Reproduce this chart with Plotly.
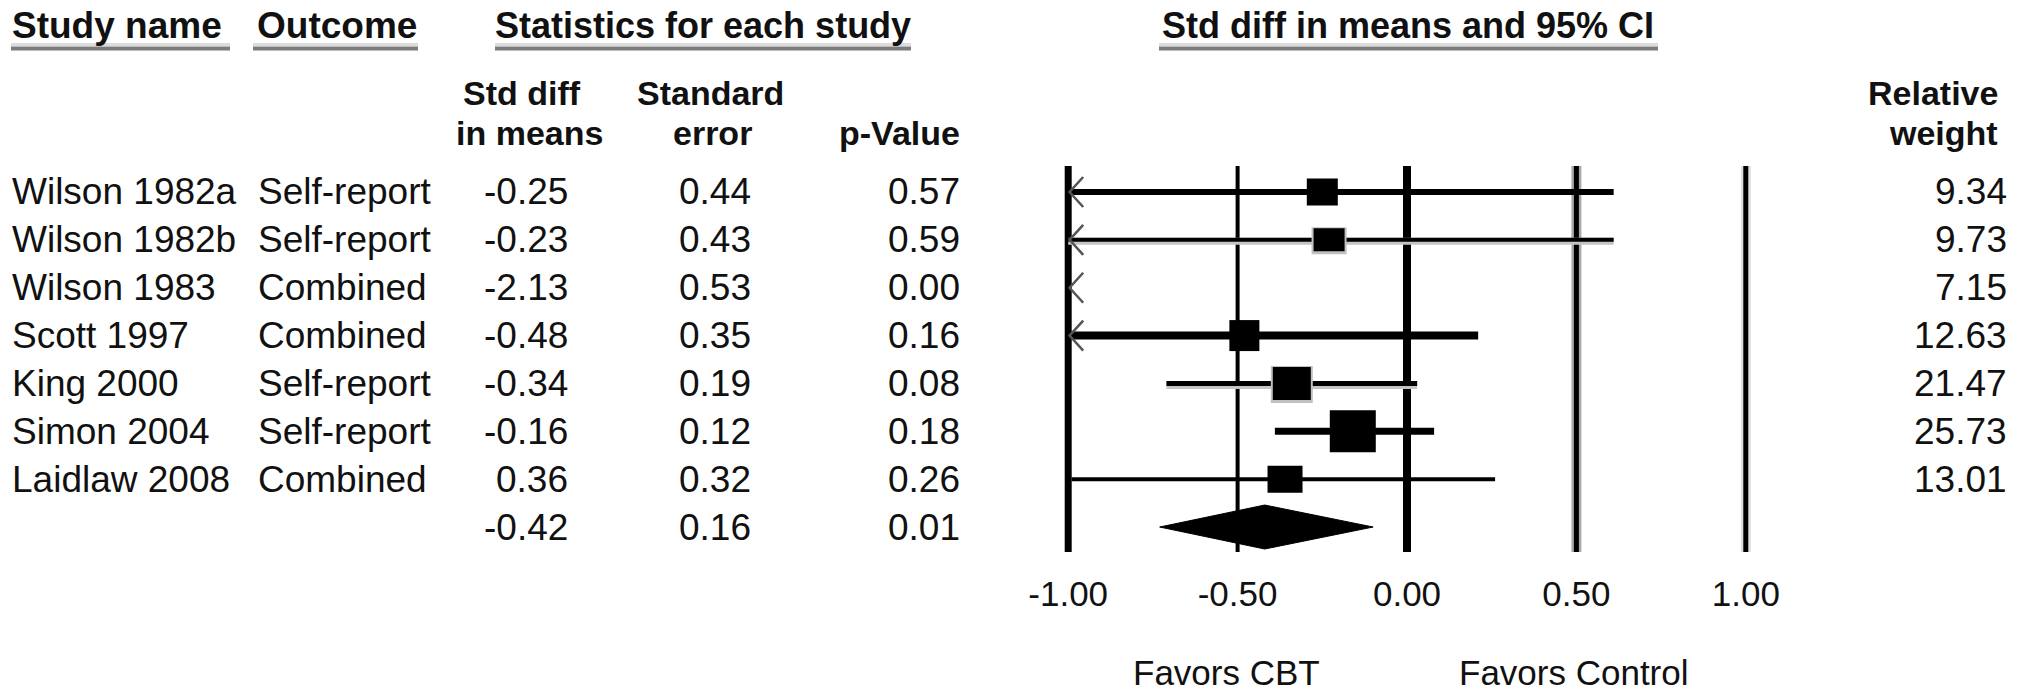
import plotly.graph_objects as go

W, H = 2026, 693

# ---------------- data ----------------
study_names = ["Wilson 1982a", "Wilson 1982b", "Wilson 1983", "Scott 1997",
               "King 2000", "Simon 2004", "Laidlaw 2008"]
outcomes = ["Self-report", "Self-report", "Combined", "Combined",
            "Self-report", "Self-report", "Combined"]
# values as printed in the table
table_std_diff = [-0.25, -0.23, -2.13, -0.48, -0.34, -0.16, 0.36]
table_se = [0.44, 0.43, 0.53, 0.35, 0.19, 0.12, 0.32]
table_p = [0.57, 0.59, 0.00, 0.16, 0.08, 0.18, 0.26]
rel_weight = [9.34, 9.73, 7.15, 12.63, 21.47, 25.73, 13.01]
summary_std_diff = -0.42
summary_se = 0.16
summary_p = 0.01

# values as drawn in the forest plot
point_effect = [-0.25, -0.23, -2.13, -0.48, -0.34, -0.16, -0.36]
ci_lower = [-1.11, -1.07, -3.17, -1.17, -0.71, -0.39, -0.99]
ci_upper = [0.61, 0.61, -1.09, 0.21, 0.03, 0.08, 0.26]
summary_effect = -0.42
summary_lower = -0.73
summary_upper = -0.10

axis_ticks = [-1.0, -0.5, 0.0, 0.5, 1.0]
axis_labels = ["-1.00", "-0.50", "0.00", "0.50", "1.00"]
axis_min, axis_max = -1.0, 1.0

# ---------------- styling / layout constants ----------------
FONT = "Liberation Sans, Arial, Helvetica, sans-serif"
X0_PX, X_SCALE = 1407.0, 338.8          # pixel of 0.00 and pixels per unit
ROW0_PX, ROW_STEP = 192.0, 47.86         # pixel of first row, row spacing
PLOT_TOP, PLOT_BOT = 166.0, 552.0
XR = 1.2

line_w = [6, 4, 0, 8, 5, 7, 4]
box_w = [31, 31, 0, 30, 38, 46, 35]
box_h = [27, 23, 0, 31, 33, 42, 27]
halo = [False, True, False, False, True, False, False]
vline_w = [7, 4, 8, 5, 5]
vline_halo = [None, None, None, "#a8a8a8", "#e0e0e0"]

n = len(study_names)
sum_row = n

fig = go.Figure()

shapes = []
# vertical reference lines at the tick values
for t, w, hc in zip(axis_ticks, vline_w, vline_halo):
    if hc:
        shapes.append(dict(type="line", xref="x", yref="y domain", x0=t, x1=t, y0=0, y1=1,
                           line=dict(color=hc, width=w + 5), layer="below"))
    shapes.append(dict(type="line", xref="x", yref="y domain", x0=t, x1=t, y0=0, y1=1,
                       line=dict(color="black", width=w), layer="below"))

dx_arrow = 15.0 / X_SCALE
dy_arrow = 15.0 / ROW_STEP

for i in range(n):
    lo, hi, est = ci_lower[i], ci_upper[i], point_effect[i]
    clo, chi = max(lo, axis_min), min(hi, axis_max)
    if chi > clo and line_w[i] > 0:
        if halo[i]:
            shapes.append(dict(type="line", xref="x", yref="y", ysizemode="pixel", yanchor=i,
                               x0=clo, x1=chi, y0=-1.5, y1=-1.5,
                               line=dict(color="#c4c4c4", width=line_w[i] + 3), layer="below"))
        fig.add_trace(go.Scatter(x=[clo, chi], y=[i, i], mode="lines",
                                 line=dict(color="black", width=line_w[i]),
                                 hoverinfo="skip", showlegend=False))
    if lo < axis_min:
        fig.add_trace(go.Scatter(
            x=[axis_min + dx_arrow, axis_min + 0.004, axis_min + dx_arrow],
            y=[i - dy_arrow, i, i + dy_arrow], mode="lines",
            line=dict(color="#555555", width=2.5), hoverinfo="skip", showlegend=False))
    if axis_min <= est <= axis_max and box_w[i] > 0:
        if halo[i]:
            shapes.append(dict(type="rect", xref="x", yref="y", xsizemode="pixel", ysizemode="pixel",
                               xanchor=est, yanchor=i,
                               x0=-box_w[i] / 2 - 2, x1=box_w[i] / 2 + 2,
                               y0=-box_h[i] / 2 - 3, y1=box_h[i] / 2 + 1,
                               fillcolor="#c0c0c0", line=dict(width=0)))
        shapes.append(dict(type="rect", xref="x", yref="y", xsizemode="pixel", ysizemode="pixel",
                           xanchor=est, yanchor=i,
                           x0=-box_w[i] / 2, x1=box_w[i] / 2,
                           y0=-box_h[i] / 2, y1=box_h[i] / 2,
                           fillcolor="black", line=dict(width=0)))

# summary diamond
dh = 22.0 / ROW_STEP
fig.add_trace(go.Scatter(
    x=[summary_lower, summary_effect, summary_upper, summary_effect, summary_lower],
    y=[sum_row, sum_row - dh, sum_row, sum_row + dh, sum_row],
    mode="lines", fill="toself", fillcolor="black",
    line=dict(color="black", width=1), hoverinfo="skip", showlegend=False))


def px(xp):
    return xp / W


def py(yp):
    return 1 - yp / H


# header underlines
for a, b in [(11, 230), (253, 418), (495, 911), (1159, 1658)]:
    shapes.append(dict(type="line", xref="paper", yref="paper", x0=px(a), x1=px(b),
                       y0=py(44.5), y1=py(44.5), line=dict(color="#dcdcdc", width=3)))
    shapes.append(dict(type="line", xref="paper", yref="paper", x0=px(a), x1=px(b),
                       y0=py(48.5), y1=py(48.5), line=dict(color="#7c7c7c", width=4)))

annotations = []


def ann(text, x, yc, anchor="left", size=37, bold=False, color="#111111"):
    t = f"<b>{text}</b>" if bold else text
    annotations.append(dict(text=t, x=px(x), y=py(yc),
                            xref="paper", yref="paper", xanchor=anchor, yanchor="middle",
                            showarrow=False, borderpad=0, borderwidth=0,
                            font=dict(family=FONT, size=size, color=color)))


SUB1, SUB2 = 93, 133
# headers
ann("Study name", 12, 26, "left", 37, True)
ann("Outcome", 257, 26, "left", 37, True)
ann("Statistics for each study", 703, 26, "center", 36, True)
ann("Std diff in means and 95% CI", 1408, 26, "center", 36, True)
ann("Std diff", 522, SUB1, "center", 34, True)
ann("in means", 529, SUB2, "center", 34, True)
ann("Standard", 710, SUB1, "center", 34, True)
ann("error", 712, SUB2, "center", 34, True)
ann("p-Value", 960, SUB2, "right", 34, True)
ann("Relative", 1998, SUB1, "right", 34, True)
ann("weight", 1998, SUB2, "right", 34, True)


def row_px(i):
    return ROW0_PX + ROW_STEP * i


# table rows
for i in range(n):
    yc = row_px(i)
    ann(study_names[i], 12, yc, "left", 37)
    ann(outcomes[i], 258, yc, "left", 37)
    ann(f"{table_std_diff[i]:.2f}", 568, yc, "right", 37)
    ann(f"{table_se[i]:.2f}", 751, yc, "right", 37)
    ann(f"{table_p[i]:.2f}", 960, yc, "right", 37)
    ann(f"{rel_weight[i]:.2f}", 2007, yc, "right", 37)

yc = row_px(sum_row)
ann(f"{summary_std_diff:.2f}", 568, yc, "right", 37)
ann(f"{summary_se:.2f}", 751, yc, "right", 37)
ann(f"{summary_p:.2f}", 960, yc, "right", 37)

ann("Favors CBT", 1226, 672, "center", 35)
ann("Favors Control", 1574, 672, "center", 35)

# axes mapping
xd0 = (X0_PX - XR * X_SCALE) / W
xd1 = (X0_PX + XR * X_SCALE) / W
y_top = (PLOT_TOP - ROW0_PX) / ROW_STEP
y_bot = (PLOT_BOT - ROW0_PX) / ROW_STEP

fig.update_layout(
    width=W, height=H,
    margin=dict(l=0, r=0, t=0, b=0, pad=0),
    paper_bgcolor="white", plot_bgcolor="white",
    showlegend=False,
    shapes=shapes, annotations=annotations,
    xaxis=dict(domain=[xd0, xd1], range=[-XR, XR], showgrid=False, zeroline=False,
               showline=False, tickmode="array", tickvals=axis_ticks, ticktext=axis_labels,
               ticks="outside", ticklen=11, tickcolor="rgba(0,0,0,0)",
               tickfont=dict(family=FONT, size=35, color="#111111"), fixedrange=True),
    yaxis=dict(domain=[1 - PLOT_BOT / H, 1 - PLOT_TOP / H], range=[y_bot, y_top],
               visible=False, fixedrange=True),
)

fig.write_html("out.html", config={"displayModeBar": False},
               post_script="document.body.style.margin='0px';document.body.style.overflow='hidden';")
